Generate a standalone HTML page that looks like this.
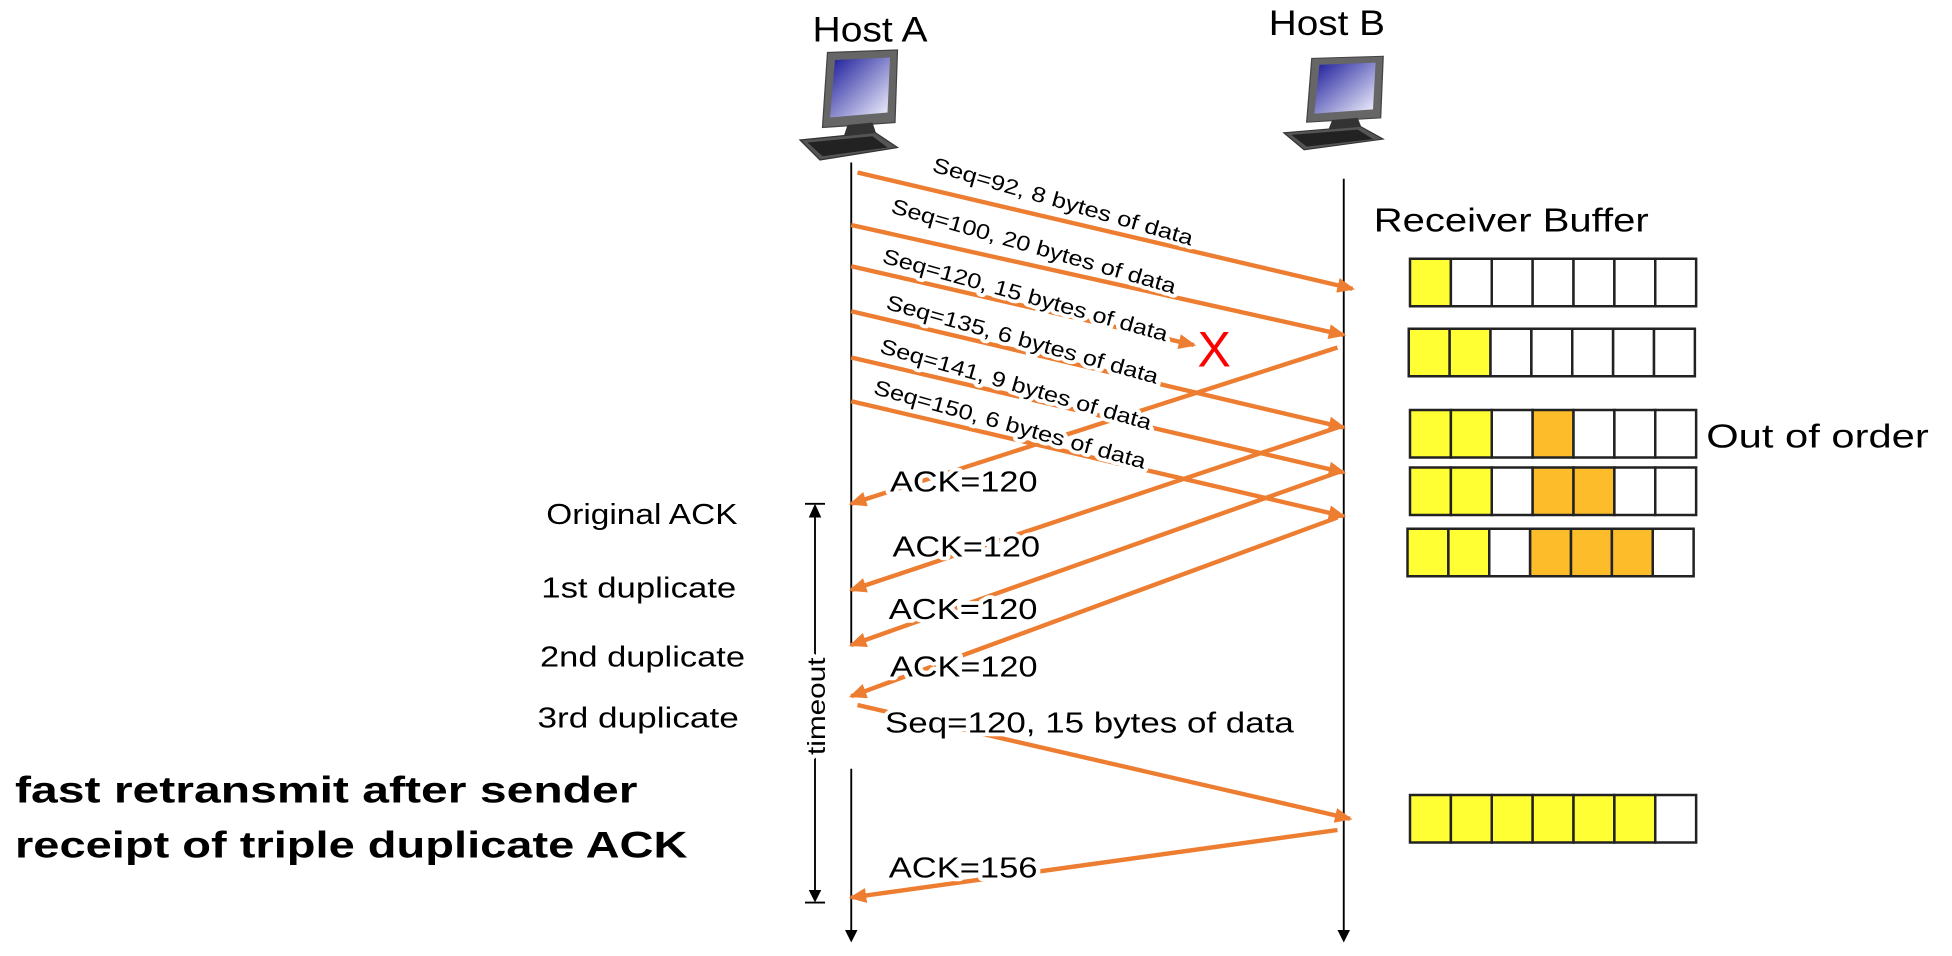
<!DOCTYPE html>
<html><head><meta charset="utf-8"><style>
html,body{margin:0;padding:0;background:#fff;overflow:hidden}
svg{display:block}
text{font-family:"Liberation Sans",sans-serif;fill:#000}
.h{paint-order:stroke;stroke:#fff;stroke-width:6px;stroke-linejoin:round}
</style></head><body>
<svg width="1952" height="956" viewBox="0 0 1561.6 764.8" preserveAspectRatio="none" xmlns="http://www.w3.org/2000/svg">
<defs>
<marker id="oa" markerWidth="14" markerHeight="12" refX="12" refY="6" orient="auto" markerUnits="userSpaceOnUse"><path d="M0,0 L14,6 L0,12 Z" fill="#ED7D31"/></marker>
<marker id="ka" markerWidth="10" markerHeight="10" refX="8" refY="5" orient="auto" markerUnits="userSpaceOnUse"><path d="M0,0 L10,5 L0,10 Z" fill="#000"/></marker>
<linearGradient id="scr" x1="0" y1="0" x2="1" y2="1"><stop offset="0" stop-color="#1a1a9a"/><stop offset="1" stop-color="#f4f4ff"/></linearGradient>
<g id="pc">
<path d="M22,2 L78,0 L76,58 L18,62 Z" fill="#666" stroke="#444"/>
<path d="M28,8 L72,6 L70,50 L24,54 Z" fill="url(#scr)"/>
<path d="M38,60 L58,58 L62,70 L34,72 Z" fill="#333"/>
<path d="M0,72 L60,66 L78,78 L16,88 Z" fill="#555" stroke="#333"/>
<path d="M6,74 L58,69 L70,78 L18,85 Z" fill="#222"/>
</g>
</defs>

<text x="650" y="33" font-size="28" textLength="92" lengthAdjust="spacingAndGlyphs">Host A</text>
<text x="1015" y="28" font-size="28" textLength="93" lengthAdjust="spacingAndGlyphs">Host B</text>
<use href="#pc" transform="translate(640,40)"/>
<use href="#pc" transform="translate(1027,45) scale(1.02,0.85)"/>

<line x1="681" y1="130" x2="681" y2="517" stroke="#000" stroke-width="1.5"/>
<line x1="681" y1="615" x2="681" y2="752" stroke="#000" stroke-width="1.5" marker-end="url(#ka)"/>
<line x1="1075" y1="143" x2="1075" y2="752" stroke="#000" stroke-width="1.5" marker-end="url(#ka)"/>

<line x1="652" y1="412" x2="652" y2="714" stroke="#000" stroke-width="1.5"/>
<path d="M647,414 L652,403 L657,414 Z M647,712 L652,722 L657,712 Z" fill="#000"/>
<line x1="644" y1="403" x2="660" y2="403" stroke="#000" stroke-width="1.5"/>
<line x1="644" y1="722" x2="660" y2="722" stroke="#000" stroke-width="1.5"/>
<text class="h" transform="translate(660,604) rotate(-90)" font-size="20" textLength="78" lengthAdjust="spacingAndGlyphs">timeout</text>

<g stroke="#ED7D31" stroke-width="3.5" fill="none" marker-end="url(#oa)">
<line x1="686" y1="138" x2="1082" y2="231"/>
<line x1="681" y1="180" x2="1075" y2="268"/>
<line x1="681" y1="213" x2="955" y2="276"/>
<line x1="681" y1="249" x2="1075" y2="342"/>
<line x1="681" y1="286" x2="1075" y2="378"/>
<line x1="681" y1="321" x2="1075" y2="413"/>
<line x1="1070" y1="278" x2="681" y2="403"/>
<line x1="1070" y1="342" x2="681" y2="472"/>
<line x1="1070" y1="378" x2="681" y2="516"/>
<line x1="1070" y1="414" x2="681" y2="557"/>
<line x1="686" y1="564" x2="1080" y2="655"/>
<line x1="1070" y1="664" x2="681" y2="718"/>
</g>

<text x="958" y="293" font-size="40" style="fill:#f00">X</text>

<g font-size="17">
<text class="h" transform="translate(745,137) rotate(16)" textLength="216" lengthAdjust="spacingAndGlyphs">Seq=92, 8 bytes of data</text>
<text class="h" transform="translate(712,170) rotate(16)" textLength="236" lengthAdjust="spacingAndGlyphs">Seq=100, 20 bytes of data</text>
<text class="h" transform="translate(705,210) rotate(15.5)" textLength="236" lengthAdjust="spacingAndGlyphs">Seq=120, 15 bytes of data</text>
<text class="h" transform="translate(708,247) rotate(15.5)" textLength="225" lengthAdjust="spacingAndGlyphs">Seq=135, 6 bytes of data</text>
<text class="h" transform="translate(703,282) rotate(16)" textLength="225" lengthAdjust="spacingAndGlyphs">Seq=141, 9 bytes of data</text>
<text class="h" transform="translate(698,315) rotate(15.5)" textLength="225" lengthAdjust="spacingAndGlyphs">Seq=150, 6 bytes of data</text>
</g>

<g font-size="23">
<text class="h" x="712" y="393" textLength="118" lengthAdjust="spacingAndGlyphs">ACK=120</text>
<text class="h" x="714" y="445" textLength="118" lengthAdjust="spacingAndGlyphs">ACK=120</text>
<text class="h" x="711" y="495" textLength="119" lengthAdjust="spacingAndGlyphs">ACK=120</text>
<text class="h" x="712" y="541" textLength="118" lengthAdjust="spacingAndGlyphs">ACK=120</text>
<text class="h" x="708" y="586" textLength="327" lengthAdjust="spacingAndGlyphs">Seq=120, 15 bytes of data</text>
<text class="h" x="711" y="702" textLength="119" lengthAdjust="spacingAndGlyphs">ACK=156</text>
</g>

<g font-size="23">
<text x="437" y="419" textLength="153" lengthAdjust="spacingAndGlyphs">Original ACK</text>
<text x="433" y="478" textLength="156" lengthAdjust="spacingAndGlyphs">1st duplicate</text>
<text x="432" y="533" textLength="164" lengthAdjust="spacingAndGlyphs">2nd duplicate</text>
<text x="430" y="582" textLength="161" lengthAdjust="spacingAndGlyphs">3rd duplicate</text>
</g>

<g font-size="30" font-weight="bold">
<text x="12" y="642" textLength="498" lengthAdjust="spacingAndGlyphs">fast retransmit after sender</text>
<text x="12" y="686" textLength="538" lengthAdjust="spacingAndGlyphs">receipt of triple duplicate ACK</text>
</g>

<text x="1099" y="185" font-size="27" textLength="220" lengthAdjust="spacingAndGlyphs">Receiver Buffer</text>
<text x="1365" y="358" font-size="27" textLength="178" lengthAdjust="spacingAndGlyphs">Out of order</text>

<g stroke="#222" stroke-width="2">
<g transform="translate(1128,207)">
<rect x="0" width="32.7" height="38" fill="#FFFF33"/><rect x="32.7" width="32.7" height="38" fill="#fff"/><rect x="65.4" width="32.7" height="38" fill="#fff"/><rect x="98.1" width="32.7" height="38" fill="#fff"/><rect x="130.8" width="32.7" height="38" fill="#fff"/><rect x="163.5" width="32.7" height="38" fill="#fff"/><rect x="196.2" width="32.7" height="38" fill="#fff"/>
</g>
<g transform="translate(1127,263)">
<rect x="0" width="32.7" height="38" fill="#FFFF33"/><rect x="32.7" width="32.7" height="38" fill="#FFFF33"/><rect x="65.4" width="32.7" height="38" fill="#fff"/><rect x="98.1" width="32.7" height="38" fill="#fff"/><rect x="130.8" width="32.7" height="38" fill="#fff"/><rect x="163.5" width="32.7" height="38" fill="#fff"/><rect x="196.2" width="32.7" height="38" fill="#fff"/>
</g>
<g transform="translate(1128,328)">
<rect x="0" width="32.7" height="38" fill="#FFFF33"/><rect x="32.7" width="32.7" height="38" fill="#FFFF33"/><rect x="65.4" width="32.7" height="38" fill="#fff"/><rect x="98.1" width="32.7" height="38" fill="#FDBD2A"/><rect x="130.8" width="32.7" height="38" fill="#fff"/><rect x="163.5" width="32.7" height="38" fill="#fff"/><rect x="196.2" width="32.7" height="38" fill="#fff"/>
</g>
<g transform="translate(1128,374)">
<rect x="0" width="32.7" height="38" fill="#FFFF33"/><rect x="32.7" width="32.7" height="38" fill="#FFFF33"/><rect x="65.4" width="32.7" height="38" fill="#fff"/><rect x="98.1" width="32.7" height="38" fill="#FDBD2A"/><rect x="130.8" width="32.7" height="38" fill="#FDBD2A"/><rect x="163.5" width="32.7" height="38" fill="#fff"/><rect x="196.2" width="32.7" height="38" fill="#fff"/>
</g>
<g transform="translate(1126,423)">
<rect x="0" width="32.7" height="38" fill="#FFFF33"/><rect x="32.7" width="32.7" height="38" fill="#FFFF33"/><rect x="65.4" width="32.7" height="38" fill="#fff"/><rect x="98.1" width="32.7" height="38" fill="#FDBD2A"/><rect x="130.8" width="32.7" height="38" fill="#FDBD2A"/><rect x="163.5" width="32.7" height="38" fill="#FDBD2A"/><rect x="196.2" width="32.7" height="38" fill="#fff"/>
</g>
<g transform="translate(1128,636)">
<rect x="0" width="32.7" height="38" fill="#FFFF33"/><rect x="32.7" width="32.7" height="38" fill="#FFFF33"/><rect x="65.4" width="32.7" height="38" fill="#FFFF33"/><rect x="98.1" width="32.7" height="38" fill="#FFFF33"/><rect x="130.8" width="32.7" height="38" fill="#FFFF33"/><rect x="163.5" width="32.7" height="38" fill="#FFFF33"/><rect x="196.2" width="32.7" height="38" fill="#fff"/>
</g>
</g>
</svg>
</body></html>
